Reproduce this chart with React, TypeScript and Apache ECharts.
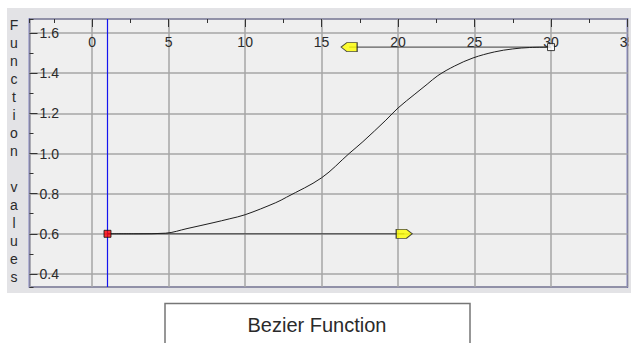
import React, { useEffect, useRef } from "react";
import * as echarts from "echarts";

// Axis ranges and steps
const X_MIN = -4.1;
const X_MAX = 35;
const X_STEP = 5;
const Y_MIN = 0.335;
const Y_MAX = 1.67;
const Y_STEP = 0.2;

// Curve samples
const curveX = [1, 3, 4.8, 6.2, 7.9, 9.0, 10.0, 12.0, 12.7, 15.0, 16.8, 17.7, 19.2, 20.0, 21.1, 21.9, 22.6, 23.7, 24.9, 26.3, 27.5, 28.6, 30];
const curveY = [0.6, 0.6, 0.603, 0.626, 0.655, 0.675, 0.695, 0.755, 0.782, 0.879, 1.0, 1.059, 1.166, 1.227, 1.296, 1.345, 1.388, 1.436, 1.476, 1.506, 1.521, 1.528, 1.53];

// End points and their control handles
const startPoint = [1, 0.6];
const startControl = [20.4, 0.6];
const endPoint = [30, 1.53];
const endControl = [16.8, 1.53];

const yTitle = "Function values";
const caption = "Bezier Function";

const labelFont = "'Liberation Sans', Arial, sans-serif";
const tickColor = "#333333";
const gridColor = "#a6a6a6";
const panelColor = "#e3e3e6";

export default function App() {
  const ref = useRef<HTMLDivElement>(null);

  useEffect(() => {
    if (!ref.current) return;
    const chart = echarts.init(ref.current, null, { renderer: "svg" });

    const curveData = curveX.map((x, i) => [x, curveY[i]]);

    // Major axis: ticks, labels and grid lines on multiples of the step
    const majorAxis = (min: number, max: number, step: number, split: number) => ({
      type: "value",
      min,
      max,
      splitNumber: split,
      minInterval: step,
      maxInterval: step,
      axisLine: { show: false, onZero: false },
      axisTick: { show: true, inside: true, length: 8, lineStyle: { color: tickColor, width: 1 } },
      splitLine: { show: true, lineStyle: { color: gridColor, width: 1.5 } },
    });

    // Half-step tick marks: same scale shifted by half a step
    const minorAxis = (min: number, max: number, step: number, split: number) => ({
      type: "value",
      min: min + step / 2,
      max: max + step / 2,
      splitNumber: split,
      minInterval: step,
      maxInterval: step,
      axisLine: { show: false, onZero: false },
      axisTick: { show: true, inside: true, length: 4, lineStyle: { color: tickColor, width: 1 } },
      axisLabel: { show: false },
      splitLine: { show: false },
    });

    const option = {
      animation: false,
      backgroundColor: "#ffffff",
      grid: {
        left: 29.5,
        top: 19,
        right: 3.5,
        bottom: 56,
        outerBoundsMode: "none",
        show: true,
        backgroundColor: "#efefef",
        borderColor: "#22229a",
        borderWidth: 1.5,
      },
      xAxis: [
        {
          ...majorAxis(X_MIN, X_MAX, X_STEP, 8),
          position: "top",
          axisLabel: {
            inside: true,
            margin: 16,
            showMinLabel: false,
            showMaxLabel: true,
            color: "#2a2a2a",
            fontSize: 14,
            fontFamily: labelFont,
            formatter: (v: number) => String(v),
          },
        },
        { ...minorAxis(X_MIN, X_MAX, X_STEP, 8), position: "top" },
      ],
      yAxis: [
        {
          ...majorAxis(Y_MIN, Y_MAX, Y_STEP, 7),
          position: "left",
          axisLabel: {
            inside: true,
            margin: 10,
            showMinLabel: false,
            showMaxLabel: false,
            color: "#2a2a2a",
            fontSize: 14,
            fontFamily: labelFont,
            formatter: (v: number) => v.toFixed(1),
          },
        },
        { ...minorAxis(Y_MIN, Y_MAX, Y_STEP, 7), position: "left" },
      ],
      series: [
        {
          name: "start handle",
          type: "line",
          data: [startPoint, startControl],
          symbol: "none",
          lineStyle: { color: "#3a3a3a", width: 1 },
          z: 3,
        },
        {
          name: "end handle",
          type: "line",
          data: [endPoint, endControl],
          symbol: "none",
          lineStyle: { color: "#3a3a3a", width: 1 },
          z: 3,
        },
        {
          name: "curve",
          type: "line",
          data: curveData,
          symbol: "none",
          smooth: 0.35,
          lineStyle: { color: "#1e1e1e", width: 1 },
          z: 4,
        },
        {
          name: "start cursor",
          type: "line",
          data: [
            [startPoint[0], Y_MIN],
            [startPoint[0], Y_MAX],
          ],
          symbol: "none",
          lineStyle: { color: "#1414f0", width: 1.2 },
          z: 4,
        },
        {
          name: "start control",
          type: "scatter",
          data: [startControl],
          symbol: "path://M0,0L9,0L14,5L9,10L0,10Z",
          symbolSize: [16, 9],
          itemStyle: { color: "#ffff00", borderColor: "#222222", borderWidth: 1 },
          z: 5,
        },
        {
          name: "end control",
          type: "scatter",
          data: [endControl],
          symbol: "path://M5,0L14,0L14,10L5,10L0,5Z",
          symbolSize: [16, 9],
          itemStyle: { color: "#ffff00", borderColor: "#222222", borderWidth: 1 },
          z: 5,
        },
        {
          name: "start point",
          type: "scatter",
          data: [startPoint],
          symbol: "rect",
          symbolSize: 7,
          itemStyle: { color: "#ff0000", borderColor: "#111111", borderWidth: 1 },
          z: 6,
        },
        {
          name: "end point",
          type: "scatter",
          data: [endPoint],
          symbol: "rect",
          symbolSize: 7,
          itemStyle: { color: "#ffffff", borderColor: "#111111", borderWidth: 1 },
          z: 6,
        },
      ],
      graphic: [
        {
          type: "rect",
          z: -10,
          shape: { x: 7, y: 8, width: 624, height: 285 },
          style: { fill: panelColor },
        },
        {
          type: "rect",
          z: 100,
          shape: { x: 628.6, y: 19, width: 3, height: 274 },
          style: { fill: panelColor },
        },
        {
          type: "text",
          z: 100,
          x: 14,
          y: 16,
          style: {
            text: yTitle.split("").join("\n"),
            fill: "#2a2a2a",
            font: `14px ${labelFont}`,
            lineHeight: 18,
            align: "center",
            verticalAlign: "top",
          },
        },
        {
          type: "rect",
          z: 100,
          shape: { x: 165, y: 303.5, width: 305, height: 50 },
          style: { fill: "#ffffff", stroke: "#767676", lineWidth: 1.5 },
        },
        {
          type: "text",
          z: 101,
          x: 317,
          y: 325,
          style: {
            text: caption,
            fill: "#2a2a2a",
            font: `20px ${labelFont}`,
            align: "center",
            verticalAlign: "middle",
          },
        },
      ],
    };

    chart.setOption(option as any);
    return () => chart.dispose();
  }, []);

  return (
    <div
      ref={ref}
      style={{ position: "fixed", left: 0, top: 0, width: 631, height: 343, background: "#ffffff" }}
    />
  );
}
